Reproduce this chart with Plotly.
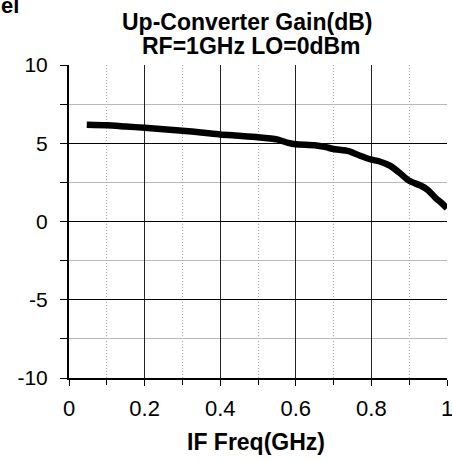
import plotly.graph_objects as go

freq_ghz = [0.047, 0.1, 0.15, 0.2, 0.25, 0.3, 0.35, 0.4, 0.45, 0.5, 0.55, 0.58, 0.6,
            0.65, 0.68, 0.7, 0.74, 0.77, 0.8, 0.82, 0.85, 0.875, 0.9, 0.93, 0.95,
            0.97, 0.985, 1.0]
gain_db = [6.18, 6.15, 6.07, 5.99, 5.9, 5.8, 5.69, 5.56, 5.48, 5.39, 5.25, 5.02, 4.93,
           4.87, 4.75, 4.63, 4.5, 4.2, 3.95, 3.85, 3.55, 3.1, 2.6, 2.3, 2.0,
           1.5, 1.2, 0.85]

x_ticks = [0, 0.2, 0.4, 0.6, 0.8, 1]
x_labels = ["0", "0.2", "0.4", "0.6", "0.8", "1"]
y_ticks = [-10, -5, 0, 5, 10]
y_labels = ["-10", "-5", "0", "5", "10"]

title_lines = ["Up-Converter Gain(dB)", "RF=1GHz LO=0dBm"]
x_title = "IF Freq(GHz)"

FONT = "Liberation Sans, Arial, sans-serif"

# plot area in pixels
L, R, T, B = 69, 447, 65, 378
W, H = R - L, B - T


def px(xp):
    return (xp - L) / W


def py(yp):
    return (B - yp) / H


fig = go.Figure()
fig.add_trace(go.Scatter(x=freq_ghz, y=gain_db, mode="lines",
                         line=dict(color="black", width=6.5, shape="spline", smoothing=0.6),
                         showlegend=False, hoverinfo="skip", cliponaxis=False))

fig.update_layout(
    width=452, height=462,
    margin=dict(l=L, r=452 - R, t=T, b=462 - B, autoexpand=False),
    paper_bgcolor="white", plot_bgcolor="white",
    font=dict(family=FONT, color="black", size=21),
)

fig.update_xaxes(
    range=[0, 1], tickvals=x_ticks, ticktext=x_labels, automargin=False,
    ticklabeloverflow="allow",
    showgrid=True, gridcolor="#222222", gridwidth=1,
    showline=True, linecolor="black", linewidth=2,
    ticks="outside", ticklen=6, tickcolor="black", tickwidth=1,
    tickfont=dict(size=22), ticklabelstandoff=4,
    minor=dict(dtick=0.1, tick0=0, showgrid=True, gridcolor="#a8a8a8",
               griddash="1px,2px", gridwidth=1, ticks="outside", ticklen=5,
               tickcolor="black"),
    zeroline=False, mirror=False,
)
fig.update_yaxes(
    range=[-10, 10], tickvals=y_ticks, ticktext=y_labels, automargin=False,
    ticklabeloverflow="allow",
    showgrid=True, gridcolor="black", gridwidth=1,
    showline=True, linecolor="black", linewidth=2,
    ticks="outside", ticklen=7, tickcolor="black", tickwidth=1,
    tickfont=dict(size=21), ticklabelstandoff=8,
    minor=dict(dtick=2.5, tick0=0, showgrid=True, gridcolor="#b8b8b8",
               gridwidth=1, ticks="outside", ticklen=7, tickcolor="black"),
    zeroline=False,
)

fig.add_annotation(text="<b>" + title_lines[0] + "</b>", xref="paper", yref="paper",
                   x=px(247), y=py(22), xanchor="center", yanchor="middle",
                   showarrow=False, font=dict(size=23, family=FONT))
fig.add_annotation(text="<b>" + title_lines[1] + "</b>", xref="paper", yref="paper",
                   x=px(251), y=py(46), xanchor="center", yanchor="middle",
                   showarrow=False, font=dict(size=23, family=FONT))
fig.add_annotation(text="<b>" + x_title + "</b>", xref="paper", yref="paper",
                   x=px(256), y=py(442), xanchor="center", yanchor="middle",
                   showarrow=False, font=dict(size=23, family=FONT))
fig.add_annotation(text="<b>el</b>", xref="paper", yref="paper",
                   x=px(-1), y=py(-9), xanchor="left", yanchor="top",
                   showarrow=False, font=dict(size=22, family=FONT))

fig.write_html("out.html", config={"displayModeBar": False},
               post_script="document.body.style.margin='0';document.body.style.overflow='hidden';")
